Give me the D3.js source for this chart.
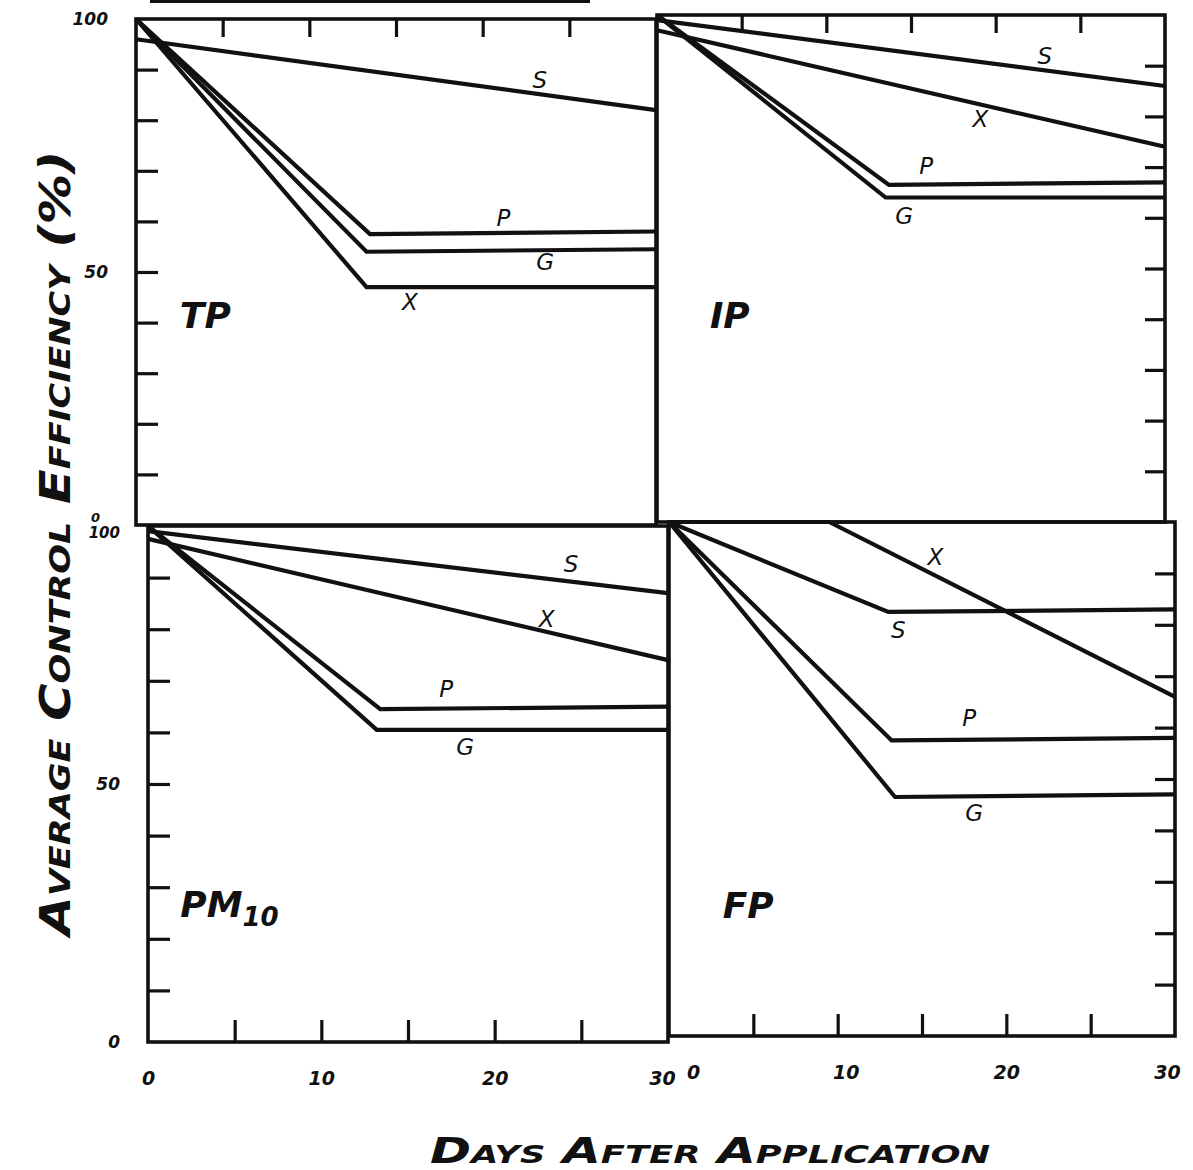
<!DOCTYPE html>
<html><head><meta charset="utf-8">
<script src="https://cdn.jsdelivr.net/npm/d3@7"></script>
<style>
body{margin:0;background:#fff;}
svg{display:block;}
text{font-family:"DejaVu Sans",sans-serif;font-style:italic;fill:#111;}
</style></head><body>
<svg id="c" width="1193" height="1170"></svg>
<script>
// ---------- DATA ----------
const dayDomain = [0, 30];
const valueDomain = [0, 100];
const dayTicks = [5, 10, 15, 20, 25];
const valueTicks = [10, 20, 30, 40, 50, 60, 70, 80, 90];
const dayTickLabels = [0, 10, 20, 30];
const valueTickLabels = [0, 50, 100];
const panelNames = ["TP", "IP", "PM10", "FP"];
const seriesNames = ["S", "P", "G", "X"];

// [day, average control efficiency %]
const tpS = [[0, 96], [30, 82]];
const tpP = [[0, 100], [13.5, 57.5], [30, 58]];
const tpG = [[0, 100], [13.3, 54], [30, 54.5]];
const tpX = [[0, 100], [13.3, 47], [30, 47]];

const ipS = [[0, 99], [30, 86]];
const ipX = [[0, 97], [30, 74]];
const ipP = [[0, 100], [13.7, 66.5], [30, 67]];
const ipG = [[0, 100], [13.5, 64], [30, 64]];

const pmS = [[0, 99], [30, 87]];
const pmX = [[0, 97.5], [30, 74]];
const pmP = [[0, 100], [13.4, 64.5], [30, 65]];
const pmG = [[0, 100], [13.2, 60.5], [30, 60.5]];

const fpS = [[0, 100], [13, 82.5], [30, 83]];
const fpX = [[0, 100], [9.5, 100], [30, 66]];
const fpP = [[0, 100], [13.2, 57.5], [30, 58]];
const fpG = [[0, 100], [13.4, 46.5], [30, 47]];

const panelSeries = {
  TP: {S: tpS, P: tpP, G: tpG, X: tpX},
  IP: {S: ipS, P: ipP, G: ipG, X: ipX},
  PM10: {S: pmS, P: pmP, G: pmG, X: pmX},
  FP: {S: fpS, P: fpP, G: fpG, X: fpX}
};

// ---------- LAYOUT ----------
const layout = {
  TP:   {x0: 136, x1: 656, yTop: 19, yBot: 525, left: true,  top: true,  bottom: false, right: false,
         labels: {S: [23.3, 88], P: [21.2, 60.7], G: [23.6, 52], X: [15.8, 44]}, name: [4.0, 41.5]},
  IP:   {x0: 657, x1: 1165, yTop: 15, yBot: 522, left: false, top: true,  bottom: false, right: true,
         labels: {S: [22.9, 92], X: [19.1, 79.5], P: [15.9, 70.3], G: [14.6, 60.4]}, name: [4.3, 40.7]},
  PM10: {x0: 148, x1: 668, yTop: 526, yBot: 1042, left: true,  top: false, bottom: true,  right: false,
         labels: {S: [24.4, 92.6], X: [23, 82], P: [17.2, 68.4], G: [18.3, 57.2]}, name: [4.7, 26.7]},
  FP:   {x0: 669, x1: 1175, yTop: 522, yBot: 1036, left: false, top: false, bottom: true,  right: true,
         labels: {X: [15.8, 93.2], S: [13.6, 79], P: [17.8, 61.9], G: [18.1, 43.4]}, name: [4.7, 25.5]}
};

const svg = d3.select("#c");

// scan remnant bar at the very top
svg.append("rect").attr("x", 150).attr("y", 0).attr("width", 440).attr("height", 3).attr("fill", "#111");

panelNames.forEach(name => {
  const L = layout[name];
  const x = d3.scaleLinear().domain(dayDomain).range([L.x0, L.x1]);
  const y = d3.scaleLinear().domain(valueDomain).range([L.yBot, L.yTop]);
  const g = svg.append("g");

  const tickStyle = sel => {
    sel.select(".domain").remove();
    sel.selectAll(".tick line").attr("stroke", "#111").attr("stroke-width", 3.2);
    sel.selectAll(".tick text").remove();
  };
  if (L.left) g.append("g").attr("transform", `translate(${L.x0},0)`)
      .call(d3.axisLeft(y).tickValues(valueTicks).tickSize(-22)).call(tickStyle);
  if (L.right) g.append("g").attr("transform", `translate(${L.x1},0)`)
      .call(d3.axisRight(y).tickValues(valueTicks).tickSize(-20)).call(tickStyle);
  if (L.top) g.append("g").attr("transform", `translate(0,${L.yTop})`)
      .call(d3.axisTop(x).tickValues(dayTicks).tickSize(-18)).call(tickStyle);
  if (L.bottom) g.append("g").attr("transform", `translate(0,${L.yBot})`)
      .call(d3.axisBottom(x).tickValues(dayTicks).tickSize(-22)).call(tickStyle);

  g.append("rect").attr("x", L.x0).attr("y", L.yTop)
    .attr("width", L.x1 - L.x0).attr("height", L.yBot - L.yTop)
    .attr("fill", "none").attr("stroke", "#111").attr("stroke-width", 3.6);

  if (L.left) {
    const ax = g.append("g").attr("transform", `translate(${L.x0},0)`)
      .call(d3.axisLeft(y).tickValues(valueTickLabels).tickSize(0).tickPadding(28));
    ax.select(".domain").remove();
    ax.selectAll(".tick text")
      .attr("fill", "#111")
      .style("font-weight", "600")
      .attr("dy", d => {
        if (name === "TP" && d === 0) return "-0.3em";
        if (name === "PM10" && d === 100) return "0.75em";
        return "0.32em";
      })
      .attr("x", d => (name === "TP" && d === 0) ? -36 : -28)
      .style("font-size", d => (name === "TP" && d === 0) ? "13px" : ((name === "PM10" && d === 100) ? "15px" : "17px"));
  }
  if (L.bottom) {
    const ax = g.append("g").attr("transform", `translate(0,${L.yBot})`)
      .call(d3.axisBottom(x).tickValues(dayTickLabels).tickSize(0).tickPadding(30));
    ax.select(".domain").remove();
    ax.selectAll(".tick text").style("font-size", "19px").style("font-weight", "600").attr("fill", "#111")
      .attr("x", d => {
        if (name === "PM10" && d === 30) return -6;
        if (name === "FP" && d === 0) return 24;
        if (name === "FP" && d === 10) return 8;
        if (name === "FP" && d === 30) return -8;
        return 0;
      });
  }

  const line = d3.line().x(d => x(d[0])).y(d => y(d[1]));
  seriesNames.forEach(s => {
    g.append("path").datum(panelSeries[name][s])
      .attr("d", line).attr("fill", "none").attr("stroke", "#111")
      .attr("stroke-width", 4.2).attr("stroke-linejoin", "miter").attr("stroke-linecap", "butt");
  });

  seriesNames.forEach(s => {
    const p = L.labels[s];
    g.append("text").attr("x", x(p[0])).attr("y", y(p[1]))
      .attr("text-anchor", "middle").attr("dy", "0.35em")
      .style("font-size", "23px").style("font-weight", "normal").text(s);
  });

  const t = g.append("text").attr("x", x(L.name[0])).attr("y", y(L.name[1]))
    .attr("text-anchor", "middle").attr("dy", "0.35em")
    .style("font-size", "36px").style("font-weight", "bold");
  if (name === "PM10") {
    t.append("tspan").text("PM");
    t.append("tspan").attr("dy", "0.35em").style("font-size", "26px").text("10");
  } else {
    t.text(name);
  }
});

svg.append("text")
  .attr("transform", "translate(70,543) rotate(-90)")
  .attr("text-anchor", "middle")
  .attr("textLength", 785).attr("lengthAdjust", "spacingAndGlyphs")
  .style("font-size", "42px").style("font-variant", "small-caps").style("font-weight", "600")
  .text("Average Control Efficiency (%)");

svg.append("text")
  .attr("x", 710).attr("y", 1163)
  .attr("text-anchor", "middle")
  .attr("textLength", 560).attr("lengthAdjust", "spacingAndGlyphs")
  .style("font-size", "35px").style("font-variant", "small-caps").style("font-weight", "600")
  .text("Days After Application");
</script>
</body></html>
